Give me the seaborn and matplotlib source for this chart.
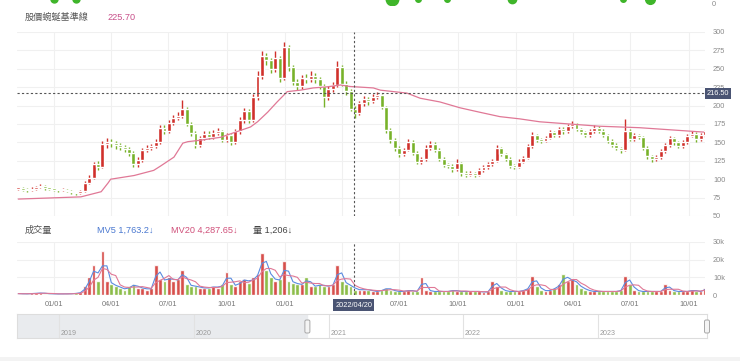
import matplotlib
matplotlib.use('Agg')
import matplotlib.pyplot as plt
from matplotlib.patches import Rectangle, FancyBboxPatch
from matplotlib.transforms import IdentityTransform
import seaborn as sns
import pandas as pd
import numpy as np

# weekly candles, Nov 2020 - Oct 2023 (open = previous close)
week_start = '2020-11-06'
first_open = 87
closes = [88, 86, 85, 87, 89, 91, 88, 87, 86, 85,
          86, 84, 82, 81, 84, 95, 102, 120, 117, 148,
          150, 149, 146, 144, 141, 136, 120, 126, 140, 142,
          145, 150, 170, 166, 176, 183, 186, 195, 175, 163,
          147, 156, 162, 157, 163, 165, 153, 160, 150, 165,
          180, 192, 180, 212, 240, 268, 262, 250, 265, 238,
          280, 252, 232, 226, 238, 236, 240, 236, 227, 212,
          222, 228, 252, 230, 220, 196, 190, 203, 209, 206,
          212, 214, 198, 167, 153, 142, 134, 140, 151, 136,
          123, 127, 143, 148, 140, 128, 119, 118, 114, 122,
          108, 106, 108, 106, 112, 116, 120, 125, 142, 134,
          128, 118, 117, 124, 129, 145, 160, 153, 152, 156,
          164, 160, 168, 165, 172, 175, 168, 164, 160, 165,
          170, 166, 160, 152, 147, 142, 140, 165, 155, 160,
          157, 143, 131, 127, 130, 138, 146, 156, 150, 145,
          150, 159, 162, 154, 160, 165]
highs = [90, 89, 88, 89, 91, 94, 92, 89, 88, 87,
         88, 87, 85, 83, 86, 97, 106, 124, 125, 152,
         156, 154, 152, 149, 147, 144, 138, 130, 143, 146,
         148, 154, 174, 173, 180, 187, 191, 208, 198, 178,
         165, 159, 166, 165, 167, 169, 167, 163, 162, 168,
         184, 197, 195, 216, 247, 274, 272, 265, 274, 268,
         286, 283, 255, 236, 242, 243, 247, 244, 239, 229,
         226, 232, 260, 255, 233, 222, 199, 206, 213, 212,
         216, 218, 216, 200, 170, 156, 145, 143, 155, 153,
         138, 130, 147, 152, 150, 142, 130, 122, 120, 128,
         124, 111, 111, 110, 115, 119, 123, 128, 146, 144,
         136, 130, 120, 127, 132, 148, 164, 162, 156, 159,
         167, 166, 171, 171, 175, 179, 177, 170, 166, 168,
         173, 172, 168, 162, 154, 149, 144, 182, 168, 163,
         162, 159, 145, 133, 133, 141, 149, 159, 158, 152,
         153, 162, 166, 164, 163, 167]
lows = [85, 84, 83, 84, 86, 88, 86, 85, 84, 83,
        84, 82, 80, 79, 80, 83, 93, 100, 112, 115,
        143, 144, 141, 139, 137, 132, 116, 117, 124, 137,
        139, 143, 148, 162, 163, 173, 180, 183, 172, 159,
        143, 144, 153, 154, 154, 160, 150, 150, 146, 148,
        162, 177, 176, 178, 208, 236, 255, 244, 246, 232,
        235, 247, 228, 221, 222, 231, 232, 231, 222, 198,
        208, 218, 225, 226, 215, 192, 183, 187, 200, 201,
        203, 209, 195, 163, 149, 138, 130, 131, 138, 133,
        120, 120, 125, 140, 137, 125, 116, 115, 110, 111,
        104, 103, 104, 103, 104, 110, 114, 118, 123, 131,
        125, 115, 114, 115, 122, 127, 143, 150, 149, 150,
        154, 157, 158, 162, 163, 170, 165, 161, 157, 158,
        163, 163, 157, 149, 144, 139, 136, 138, 152, 152,
        154, 140, 128, 124, 125, 128, 136, 144, 147, 142,
        143, 148, 157, 151, 152, 158]
# average daily volume of each week, in thousand lots
volumes = [0.8, 0.6, 0.7, 0.9, 1.0, 1.2, 0.8, 0.7, 0.6, 0.6,
           0.7, 0.6, 0.8, 1.0, 1.5, 5, 10, 17, 8, 25,
           8, 6, 5, 4, 3, 5, 6, 4, 4, 3,
           4, 17, 9, 8, 10, 8, 9, 14, 6, 5,
           5, 4, 4, 4, 5, 4, 6, 13, 6, 5,
           8, 9, 7, 10, 12, 24, 14, 10, 8, 9,
           19, 8, 7, 6, 6, 10, 5, 5, 6, 5,
           5, 6, 17, 8, 6, 5, 3, 3, 3, 3,
           2, 2, 3, 4, 3, 2, 2, 2, 3, 2,
           2, 10, 3, 2, 2, 2, 2, 2, 3, 2,
           2, 2, 2, 2, 2, 1.5, 2, 8, 5, 3,
           2, 2, 2, 2, 3, 4, 11, 5, 3, 2,
           3, 4, 6, 12, 8, 9, 6, 4, 3, 2,
           2, 2, 2, 2, 2, 2, 3, 11, 6, 3,
           2, 2, 2, 2, 2, 2, 6, 3, 2, 2,
           2, 2, 3, 2, 2, 4]

# pink baseline line
base_dates = ['2020-11-06', '2021-02-13', '2021-03-17', '2021-03-28', '2021-04-01',
              '2021-05-08', '2021-06-08', '2021-06-19', '2021-07-10', '2021-07-24',
              '2021-08-01', '2021-08-21', '2021-09-22', '2021-10-12', '2021-11-08',
              '2021-11-19', '2021-12-05', '2021-12-20', '2022-01-05', '2022-01-26',
              '2022-02-15', '2022-03-09', '2022-03-30', '2022-04-14', '2022-05-21',
              '2022-06-01', '2022-07-13', '2022-08-03', '2022-09-03', '2022-10-05',
              '2022-11-05', '2022-12-07', '2023-01-07', '2023-02-08', '2023-05-13',
              '2023-07-15', '2023-10-25']
base_values = [73, 76, 83, 95, 100, 105, 112, 118, 130, 149,
               151, 153, 157, 163, 171, 178, 191, 205, 219, 221,
               224, 225.5, 228, 226, 224, 221, 217, 210, 205, 197,
               191, 185, 182, 178, 172, 170, 164]

# bottom of the chart above (cut off)
blob_dates = ['2021-01-01', '2021-02-06', '2022-06-20', '2022-07-30',
              '2022-09-15', '2022-12-26', '2023-06-20', '2023-08-01']
blob_sizes = [5, 5, 9, 4, 4, 6, 4, 7]

quarter_ticks = ['2021-01-01', '2021-04-01', '2021-07-01', '2021-10-01',
                 '2022-01-01', '2022-04-01', '2022-07-01', '2022-10-01',
                 '2023-01-01', '2023-04-01', '2023-07-01', '2023-10-01']
year_ticks = ['2019-01-01', '2020-01-01', '2021-01-01', '2022-01-01', '2023-01-01']
year_labels = ['2019', '2020', '2021', '2022', '2023']

cursor_date = pd.Timestamp('2022-04-20')
cursor_price = 216.5
x_range = (pd.Timestamp('2020-11-04'), pd.Timestamp('2023-10-27'))
nav_range = (pd.Timestamp('2018-09-09'), pd.Timestamp('2023-10-23'))

RED = '#d0302b'
GREEN = '#78b22a'
PINK = '#e07896'
BLUE = '#5a8be0'
SLATE = '#4a5473'
GRID = '#f0f0f0'
TICK = '#8a8a8a'

sns.set_theme(style='white')
plt.rcParams['font.family'] = ['Liberation Sans', 'Noto Sans CJK TC', 'DejaVu Sans']

weeks = pd.date_range(week_start, periods=len(closes), freq='7D')
df = pd.DataFrame({'date': weeks, 'close': closes, 'high': highs, 'low': lows,
                   'vol': [v * 1000 for v in volumes]})
df['open'] = [first_open] + closes[:-1]
up = df['close'] >= df['open']
colors = np.where(up, RED, GREEN)
# weekly bars: 2 weeks ~ MV5 days, 4 weeks ~ MV20 days
df['mv5'] = df['vol'].rolling(2, min_periods=1).mean()
df['mv20'] = df['vol'].rolling(4, min_periods=1).mean()

W, H = 740, 361
fig = plt.figure(figsize=(W / 100, H / 100), dpi=100)


def box(x0, y0, x1, y1):
    return [x0 / W, 1 - y1 / H, (x1 - x0) / W, (y1 - y0) / H]


ax_top = fig.add_axes(box(17, -15, 705, 5))
ax_p = fig.add_axes(box(17, 32, 705, 216))
ax_v = fig.add_axes(box(17, 242, 705, 295))
ax_n = fig.add_axes(box(17, 314, 707, 338))

# cut-off chart at the top
ax_top.set_xlim(x_range)
ax_top.set_ylim(0, 1)
for d, s in zip(blob_dates, blob_sizes):
    ax_top.plot(pd.Timestamp(d), 0.3, 'o', color='#3fb52a', ms=s, clip_on=True)
ax_top.axis('off')
fig.text(712 / W, 1 - 5 / H, '0', fontsize=5.3, color=TICK, va='center')

# price panel
ax_p.vlines(df['date'], df['low'], df['high'], color=colors, lw=1.0, zorder=2)
body = (df['close'] - df['open']).abs().clip(lower=2)
ax_p.bar(df['date'], body, bottom=np.minimum(df['open'], df['close']),
         width=6.2, color=colors, zorder=3)
sns.lineplot(x=pd.to_datetime(base_dates), y=base_values, ax=ax_p,
             color=PINK, lw=0.9, zorder=4)
ax_p.axvline(cursor_date, color='#555555', lw=0.8, ls=(0, (2, 2)), zorder=5)
ax_p.axhline(cursor_price, color='#555555', lw=0.8, ls=(0, (2, 2)), zorder=5)
ax_p.set_xlim(x_range)
ax_p.set_ylim(50, 300)
ax_p.set_yticks(range(50, 301, 25))
ax_p.set_xticks(pd.to_datetime(quarter_ticks))
ax_p.yaxis.tick_right()
ax_p.tick_params(axis='y', length=0, pad=5.8, labelsize=5.3, labelcolor=TICK)
ax_p.tick_params(axis='x', length=0, labelbottom=False)
ax_p.grid(True, color=GRID, lw=0.8)
ax_p.set_axisbelow(True)
ax_p.set_xlabel('')
ax_p.set_ylabel('')
for sp in ax_p.spines.values():
    sp.set_visible(False)
ax_p.text(1.003, cursor_price, f'{cursor_price:.2f}', transform=ax_p.get_yaxis_transform(),
          ha='left', va='center', fontsize=5.3, color='white', clip_on=False,
          bbox=dict(boxstyle='square,pad=0.25', fc=SLATE, ec='none'), zorder=6)

# volume panel
ax_v.bar(df['date'], df['vol'], width=6.0, color=colors, alpha=0.85, zorder=2)
sns.lineplot(x=df['date'], y=df['mv5'], ax=ax_v, color=BLUE, lw=0.8, zorder=3)
sns.lineplot(x=df['date'], y=df['mv20'], ax=ax_v, color=PINK, lw=0.8, zorder=3)
ax_v.axvline(cursor_date, color='#555555', lw=0.8, ls=(0, (2, 2)), zorder=5)
ax_v.set_xlim(x_range)
ax_v.set_ylim(0, 30000)
ax_v.set_yticks([0, 10000, 20000, 30000], ['0', '10k', '20k', '30k'])
ax_v.set_xticks(pd.to_datetime(quarter_ticks),
                [pd.Timestamp(d).strftime('%m/%d') for d in quarter_ticks])
ax_v.yaxis.tick_right()
ax_v.tick_params(axis='y', length=0, pad=5.8, labelsize=5.3, labelcolor=TICK)
ax_v.tick_params(axis='x', length=0, pad=4.5, labelsize=5.3, labelcolor='#777777')
ax_v.grid(True, color=GRID, lw=0.8)
ax_v.set_axisbelow(True)
ax_v.set_xlabel('')
ax_v.set_ylabel('')
for sp in ax_v.spines.values():
    sp.set_visible(False)
ax_v.text(cursor_date, -0.19, cursor_date.strftime('%Y/%m/%d'),
          transform=ax_v.get_xaxis_transform(), ha='center', va='center',
          fontsize=5.3, color='white', clip_on=False, zorder=6,
          bbox=dict(boxstyle='square,pad=0.3', fc=SLATE, ec='none'))

# headers
fig.text(25 / W, 1 - 17 / H, '股價蜿蜒基準線', fontsize=6.6, color='#555555', va='center')
fig.text(107 / W, 1 - 17 / H, '225.70', fontsize=6.6, color='#c8508a', va='center')
fig.text(25 / W, 1 - 230 / H, '成交量', fontsize=6.6, color='#555555', va='center')
fig.text(97 / W, 1 - 230 / H, 'MV5 1,763.2↓', fontsize=6.6, color='#4a78d0', va='center')
fig.text(171 / W, 1 - 230 / H, 'MV20 4,287.65↓', fontsize=6.6, color='#d0507a', va='center')
fig.text(253 / W, 1 - 230 / H, '量 1,206↓', fontsize=6.6, color='#444444', va='center')

# navigator
ax_n.set_xlim(nav_range)
ax_n.set_ylim(0, 1)
ax_n.axvspan(nav_range[0], x_range[0], color='#e9ebee', zorder=0)
for d, lab in zip(year_ticks, year_labels):
    ax_n.axvline(pd.Timestamp(d), color='#e2e2e2', lw=0.8, zorder=1)
    ax_n.text(pd.Timestamp(d) + pd.Timedelta(days=4), 0.2, lab, fontsize=5.1,
              color='#9a9a9a', va='center', ha='left')
ax_n.set_xticks([])
ax_n.set_yticks([])
for sp in ax_n.spines.values():
    sp.set_color('#dddddd')
    sp.set_linewidth(0.8)
fig.canvas.draw()
for d in [x_range[0], nav_range[1]]:
    px, _ = ax_n.transData.transform((matplotlib.dates.date2num(d), 0))
    fig.add_artist(FancyBboxPatch((px - 2.5, H - 333), 5, 13,
                                  boxstyle='round,pad=0,rounding_size=1.5',
                                  transform=IdentityTransform(),
                                  fc='#f4f4f4', ec='#a8a8a8', lw=0.7))

# light strip at the bottom
fig.add_artist(Rectangle((0, 0), 1, 4 / H, transform=fig.transFigure,
                         color='#f3f3f3', lw=0))

fig.savefig('out.png', dpi=100)
